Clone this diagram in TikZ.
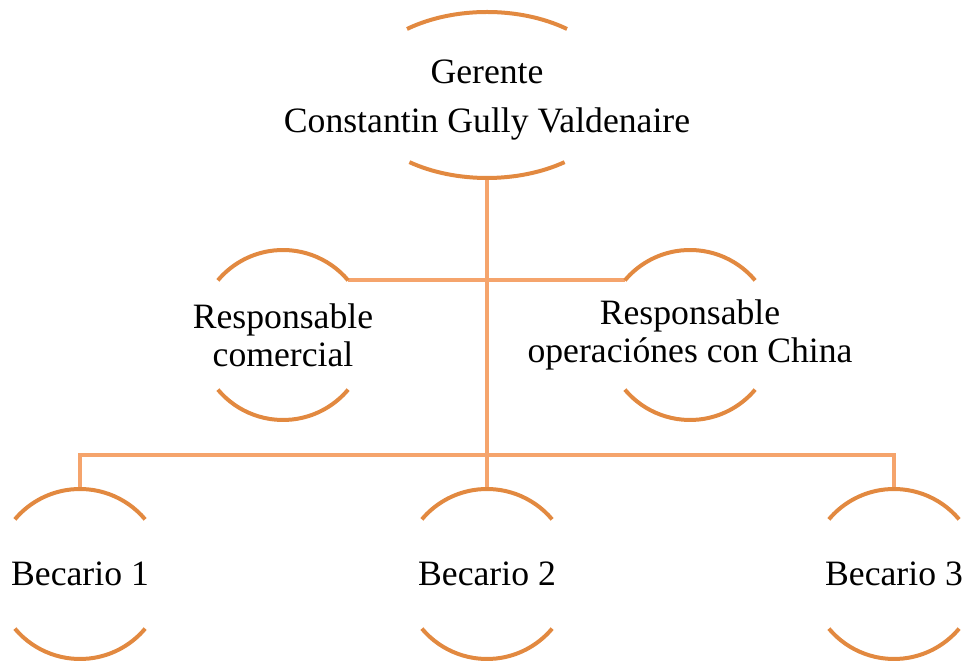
\documentclass[tikz,border=0pt]{standalone}
\usepackage{fontspec}
\setmainfont{Liberation Serif}
\usetikzlibrary{shapes.geometric,calc}

\definecolor{ringorange}{RGB}{226,137,64}
\definecolor{linkorange}{RGB}{245,164,108}

\tikzset{
  ring/.style={circle, minimum size=3.4cm, inner sep=0pt, outer sep=0pt},
  bigring/.style={ellipse, minimum width=5.28cm, minimum height=3.32cm, inner sep=0pt, outer sep=0pt},
  rim/.style={draw=ringorange, line width=0.08cm},
  link/.style={draw=linkorange, line width=0.08cm},
  txt/.style={align=center, font=\fontsize{20.3}{21.6}\selectfont},
  toptxt/.style={align=center, font=\fontsize{20.3}{27.6}\selectfont},
}

\begin{document}
\begin{tikzpicture}
  \useasboundingbox (0,0) rectangle (19.32,13.26);

  % shapes
  \node[bigring] (ger) at (9.74,11.36) {};
  \node[ring]    (rc)  at (5.66,6.56)  {};
  \node[ring]    (ro)  at (13.80,6.56) {};
  \node[ring]    (b1)  at (1.60,1.78)  {};
  \node[ring]    (b2)  at (9.74,1.78)  {};
  \node[ring]    (b3)  at (17.88,1.78) {};
  \coordinate    (bus) at (9.74,4.16);

  % texts
  \node[toptxt, yshift=-0.1cm] (gertxt) at (ger) {Gerente\\Constantin Gully Valdenaire};
  \node[txt]    (rctxt)  at (rc)  {Responsable\\comercial};
  \node[txt]    (rotxt)  at (ro)  {Responsable\\operaciónes con China};
  \node[txt]    (b1txt)  at (b1)  {Becario 1};
  \node[txt]    (b2txt)  at (b2)  {Becario 2};
  \node[txt]    (b3txt)  at (b3)  {Becario 3};

  % connectors
  \draw[link] (ger.south) -- (b2.north);
  \draw[link] (rc.40) -- (ro.140);
  \draw[link] (b1.north) |- (bus) -| (b3.north);

  % rims
  \draw[rim] ($(ger.center)+(52.7:2.64 and 1.66)$) arc[start angle=52.7, end angle=127.3, x radius=2.64, y radius=1.66];
  \draw[rim] ($(ger.center)+(234:2.64 and 1.66)$) arc[start angle=234, end angle=306, x radius=2.64, y radius=1.66];
  \foreach \n in {rc,ro,b1,b2,b3} {
    \draw[rim] (\n.40) arc[start angle=40, end angle=140, radius=1.7];
    \draw[rim] (\n.220) arc[start angle=220, end angle=320, radius=1.7];
  }
\end{tikzpicture}
\end{document}
